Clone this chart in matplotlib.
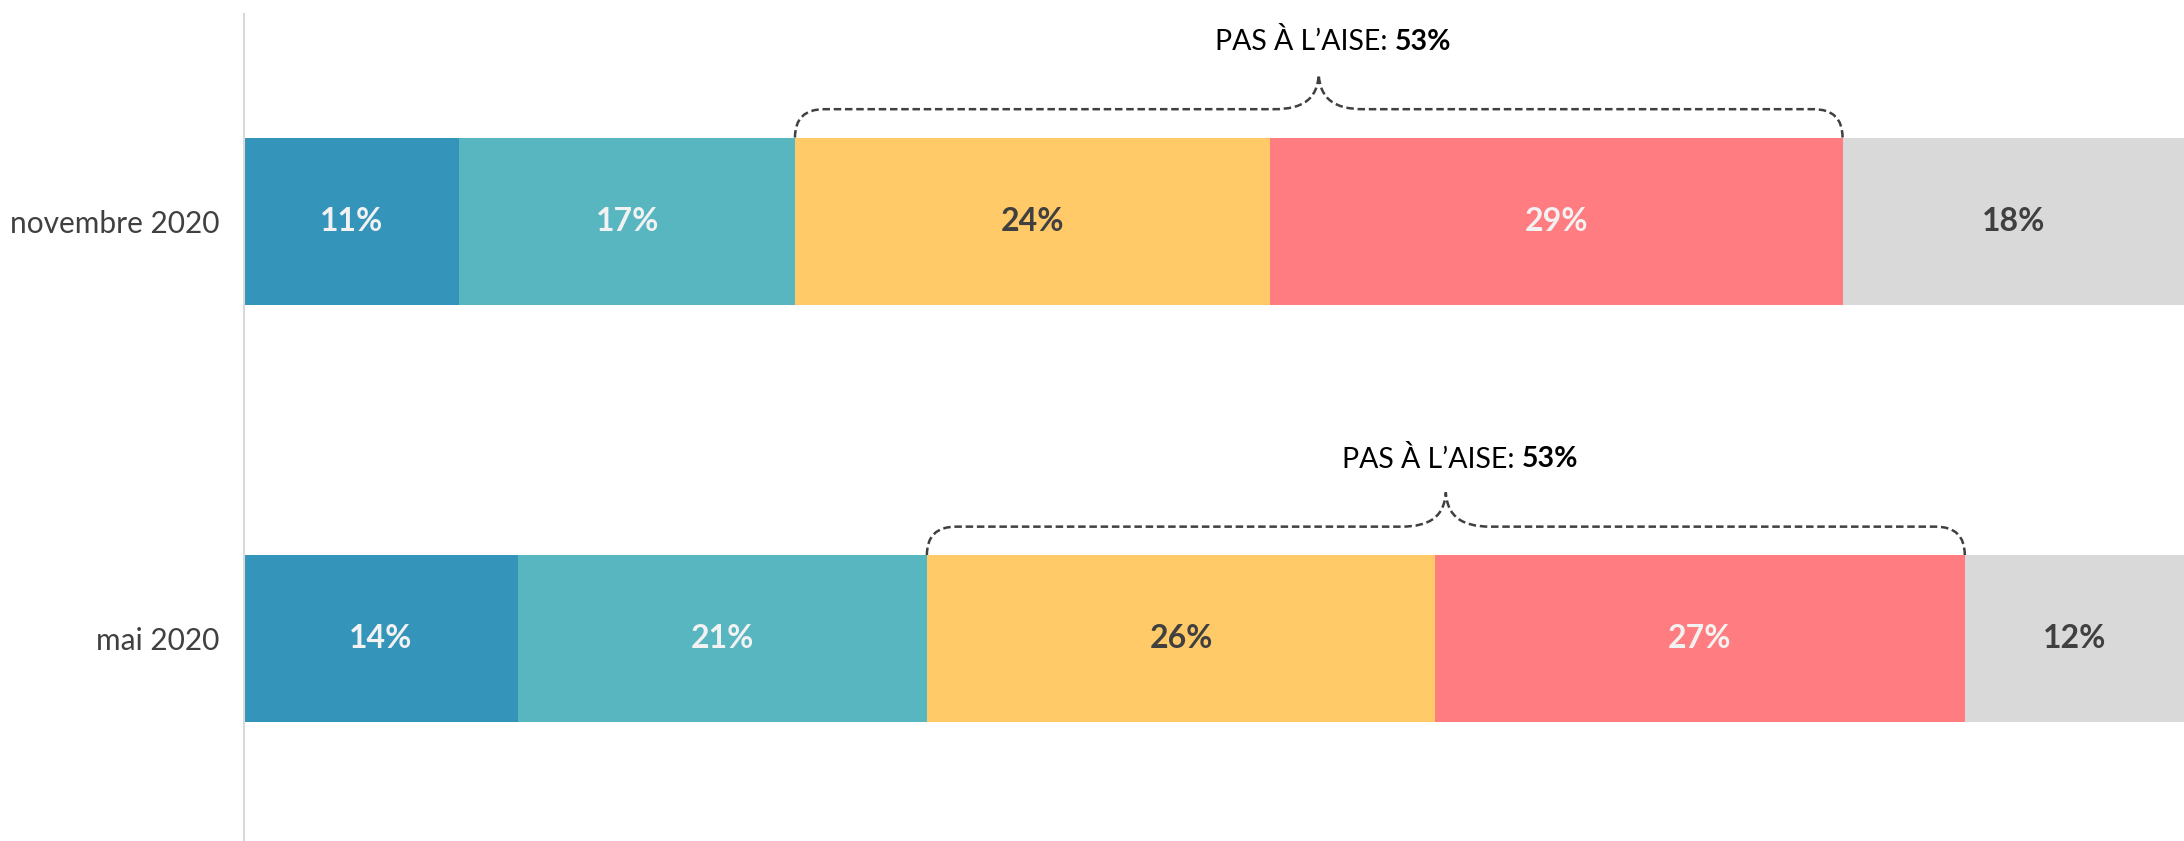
import numpy as np
import matplotlib
matplotlib.use("Agg")
import matplotlib.pyplot as plt
from matplotlib.path import Path
from matplotlib.patches import PathPatch

plt.rcParams['font.family'] = ['Lato', 'DejaVu Sans']

# data
periods = ['mai 2020', 'novembre 2020']
# segment widths (share of the bar)
widths_mai = [14.1, 21.1, 26.2, 27.3, 11.3]
widths_nov = [11.1, 17.3, 24.5, 29.5, 17.6]
labels_mai = ['14%', '21%', '26%', '27%', '12%']
labels_nov = ['11%', '17%', '24%', '29%', '18%']
brace_values = ['53%', '53%']     # mai, novembre
brace_segments = (2, 4)           # brace covers segments 2 and 3

colors = ['#3494BA', '#58B6C0', '#FFCA67', '#FF7C80', '#D9D9D9']
text_colors = ['#F2F2F2', '#F2F2F2', '#404040', '#F2F2F2', '#404040']

fig = plt.figure(figsize=(21.84, 8.41), dpi=100)
ax = fig.add_axes([244 / 2184, 0, 1 - 244 / 2184, 827 / 841])

bar_h = 0.4
for yi, (widths, labels) in enumerate([(widths_mai, labels_mai), (widths_nov, labels_nov)]):
    left = np.concatenate([[0], np.cumsum(widths)[:-1]])
    ax.barh(yi, widths, left=left, height=bar_h, color=colors, edgecolor='none')
    for l, w, lab, tc in zip(left, widths, labels, text_colors):
        ax.text(l + w / 2, yi, lab, ha='center', va='center', fontsize=23,
                fontweight='bold', color=tc)

    # dashed brace over the "pas a l'aise" segments
    cum = np.concatenate([[0], np.cumsum(widths)])
    x0, x1 = cum[brace_segments[0]], cum[brace_segments[1]]
    xm = (x0 + x1) / 2
    y0 = yi + bar_h / 2
    yh = y0 + 0.068
    yt = y0 + 0.15
    r = 1.5
    rp = 2.3
    verts = [(x0, y0), (x0, yh), (x0 + r, yh), (xm - rp, yh),
             (xm - rp * 0.35, yh), (xm - 0.08, yh + 0.025), (xm, yt),
             (x1, y0), (x1, yh), (x1 - r, yh), (xm + rp, yh),
             (xm + rp * 0.35, yh), (xm + 0.08, yh + 0.025), (xm, yt)]
    codes = [Path.MOVETO, Path.CURVE3, Path.CURVE3, Path.LINETO,
             Path.CURVE4, Path.CURVE4, Path.CURVE4] * 2
    ax.add_patch(PathPatch(Path(verts, codes), facecolor='none', edgecolor='#404040',
                           lw=1.8, linestyle=(0, (3, 1.5))))
    split = xm + 3.9
    ty = yi + 0.43
    ax.text(split, ty, "PAS À L\u2019AISE: ", ha='right', va='center',
            fontsize=20.5, color='black')
    ax.text(split, ty, brace_values[yi], ha='left', va='center',
            fontsize=20.5, fontweight='bold', color='black')

ax.set_xlim(0, 100)
ax.set_ylim(-0.485, 1.496)
ax.set_yticks([0, 1])
ax.set_yticklabels(periods, fontsize=21.5, color='#404040')
ax.tick_params(axis='y', length=0, pad=18)
ax.set_xticks([])
for s in ['top', 'right', 'bottom']:
    ax.spines[s].set_visible(False)
ax.spines['left'].set_color('#D9D9D9')
ax.spines['left'].set_linewidth(1.5)

fig.savefig('out.png', dpi=100)
